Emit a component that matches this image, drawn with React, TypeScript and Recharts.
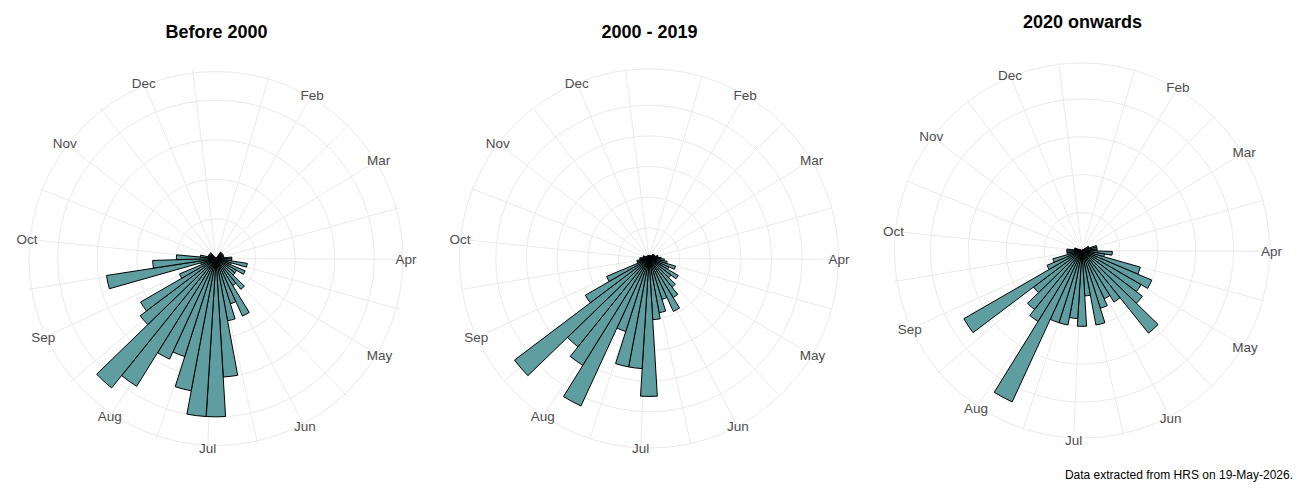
import React from "react";
import {
  PolarAngleAxis,
  PolarGrid,
  PolarRadiusAxis,
  RadialBar,
  RadialBarChart,
} from "recharts";

// weekly bins, 51 of them round the circle, clockwise from the top
const WEEKS = [
  1, 2, 3, 4, 5, 6, 7, 8, 9, 10, 11, 12, 13, 14, 15, 16, 17, 18, 19, 20, 21,
  22, 23, 24, 25, 26, 27, 28, 29, 30, 31, 32, 33, 34, 35, 36, 37, 38, 39, 40,
  41, 42, 43, 44, 45, 46, 47, 48, 49, 50, 51,
];

const MONTHS = ["Jan", "Feb", "Mar", "Apr", "May", "Jun", "Jul", "Aug", "Sep", "Oct", "Nov", "Dec"];
const MONTH_START_DAYS = [1, 32, 60, 91, 121, 152, 182, 213, 244, 274, 305, 335];

const BEFORE_2000 = [
  0, 0, 0, 0, 0, 0, 1, 0, 1, 1, 1, 1, 1, 2, 2, 4, 2, 4, 3, 3, 5, 4, 8, 6, 8,
  15, 20, 20, 17, 13, 14, 19, 21, 12, 11, 5, 2, 14, 8, 5, 2, 1, 1, 1, 0, 1,
  0, 0, 0, 0, 0,
];
const FROM_2000 = [
  1, 1, 0, 1, 1, 1, 1, 2, 2, 2, 2, 3, 3, 4, 5, 6, 9, 7, 11, 9, 12, 15, 19, 14,
  18, 20, 45, 36, 36, 25, 53, 41, 37, 55, 24, 15, 4, 4, 3, 3, 2, 2, 2, 1, 1, 1,
  1, 1, 0, 1, 1,
];
const FROM_2020 = [
  0, 0, 0, 0, 0, 0, 0, 0, 0, 1, 1, 2, 2, 2, 4, 3, 8, 10, 9, 10, 14, 8, 7, 8,
  10, 6, 10, 9, 10, 10, 22, 11, 10, 8, 18, 5, 4, 2, 2, 2, 1, 1, 0, 0, 0, 0, 0,
  0, 0, 0, 0,
];

const TITLES = ["Before 2000", "2000 - 2019", "2020 onwards"];
const CAPTION = "Data extracted from HRS on 19-May-2026.";

// the day scale only spans the binned days (day 2 .. 356.5), so 1 Jan falls off it.
// half-day slots let the minor spokes sit between months
const DAY_FIRST = 2;
const DAY_LAST = 356.5;
const DAY_SLOTS = Array.from(
  { length: (DAY_LAST - DAY_FIRST) * 2 + 1 },
  (_, i) => ({ day: DAY_FIRST + i / 2 })
);

const FONT = "'Liberation Sans', Arial, sans-serif";
const GRID = "#ebebeb";
const FILL = "#5f9ea0";

const majorDays = MONTH_START_DAYS.filter((d) => d >= DAY_FIRST && d <= DAY_LAST);
// minor spokes half way between the months, as ggplot does
const padded = [
  2 * majorDays[0] - majorDays[1],
  ...majorDays,
  2 * majorDays[majorDays.length - 1] - majorDays[majorDays.length - 2],
];
const minorDays = padded
  .slice(1)
  .map((d, i) => Math.round(d + padded[i]) / 2)
  .filter((d) => d >= DAY_FIRST && d <= DAY_LAST);
const spokeDays = [...majorDays, ...minorDays].sort((a, b) => a - b);

const MonthTick = (props: any) => {
  const { x, y, payload } = props;
  const idx = MONTH_START_DAYS.indexOf(payload.value);
  if (idx < 0) return <g />;
  return (
    <text
      x={x}
      y={y}
      dy="0.36em"
      textAnchor="middle"
      fontSize={13.5}
      fontFamily={FONT}
      fill="#4d4d4d"
    >
      {MONTHS[idx]}
    </text>
  );
};

const W = 433;
const H = 500;
const CX = 216;

type PanelProps = {
  title: string;
  counts: number[];
  step: number;
  left: number;
  cy: number;
  radius: number;
  titleTop: number;
};

const Panel = ({ title, counts, step, left, cy, radius, titleTop }: PanelProps) => {
  const data = WEEKS.map((week, i) => ({ week, count: counts[i] }));
  // bars fill 0.4 of the panel, the outer ring sits at 0.45
  const top = (Math.max(...counts) * 0.45) / 0.4;
  const rings = [1, 2, 3, 4, 5].map((n) => n * step).filter((v) => v < top);
  rings.push(top);

  const polar = {
    width: W,
    height: H,
    layout: "centric" as const,
    cx: CX,
    cy,
    innerRadius: 0,
    outerRadius: radius,
    startAngle: 90,
    endAngle: -270,
    margin: { top: 0, right: 0, bottom: 0, left: 0 },
  };

  return (
    <>
      <div
        style={{
          position: "absolute",
          left,
          top: titleTop,
          width: W,
          textAlign: "center",
          fontFamily: FONT,
          fontWeight: "bold",
          fontSize: 18,
          lineHeight: "18px",
          color: "#000",
        }}
      >
        {title}
      </div>
      {/* grid and month labels on a day scale */}
      <div style={{ position: "absolute", left, top: 0 }}>
        <RadialBarChart {...polar} data={DAY_SLOTS}>
          <PolarAngleAxis
            dataKey="day"
            type="category"
            ticks={spokeDays}
            axisLine={false}
            tickLine={false}
            tickSize={0.01}
            tick={<MonthTick />}
          />
          <PolarRadiusAxis
            type="number"
            domain={[0, top]}
            ticks={rings}
            allowDataOverflow
            tick={false}
            axisLine={false}
          />
          <PolarGrid gridType="circle" stroke={GRID} strokeWidth={1} />
        </RadialBarChart>
      </div>
      {/* weekly bars */}
      <div style={{ position: "absolute", left, top: 0 }}>
        <RadialBarChart {...polar} data={data} barCategoryGap={0} barGap={0}>
          <PolarAngleAxis
            dataKey="week"
            type="category"
            tick={false}
            axisLine={false}
            tickLine={false}
          />
          <PolarRadiusAxis
            type="number"
            domain={[0, top]}
            allowDataOverflow
            tick={false}
            axisLine={false}
          />
          <RadialBar
            dataKey="count"
            fill={FILL}
            stroke="#000"
            strokeWidth={1}
            isAnimationActive={false}
          />
        </RadialBarChart>
      </div>
    </>
  );
};

export default function App() {
  return (
    <div
      style={{
        position: "absolute",
        left: 0,
        top: 0,
        width: 1300,
        height: 500,
        background: "#fff",
        overflow: "hidden",
      }}
    >
      <Panel title={TITLES[0]} counts={BEFORE_2000} step={5} left={0} cy={258.5} radius={190} titleTop={23} />
      <Panel title={TITLES[1]} counts={FROM_2000} step={10} left={433} cy={258.5} radius={190} titleTop={23} />
      <Panel title={TITLES[2]} counts={FROM_2020} step={5} left={866} cy={250.5} radius={189.5} titleTop={13} />
      <div
        style={{
          position: "absolute",
          right: 7,
          top: 468,
          fontFamily: FONT,
          fontSize: 12,
          lineHeight: "14px",
          color: "#000",
        }}
      >
        {CAPTION}
      </div>
    </div>
  );
}
